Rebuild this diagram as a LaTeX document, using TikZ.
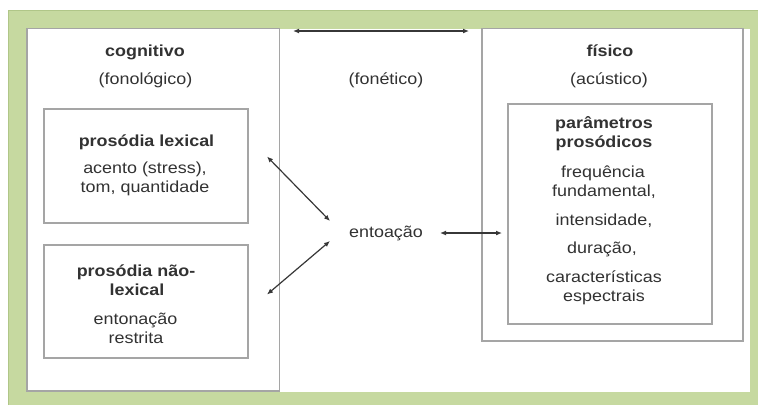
\documentclass[tikz,border=0pt]{standalone}
\usepackage{fontspec}
\setmainfont{Liberation Sans}[FakeStretch=1.12]
\usetikzlibrary{arrows.meta}
\definecolor{framegreen}{RGB}{198,217,160}
\definecolor{framegreendark}{RGB}{176,198,136}
\definecolor{panelgray}{RGB}{165,165,165}
\definecolor{txtgray}{RGB}{50,50,50}
\definecolor{arrowgray}{RGB}{55,55,55}
\begin{document}
\begin{tikzpicture}[x=1pt,y=-1pt,
  panel/.style={draw=panelgray,line width=1.5pt},
  inbox/.style={draw=panelgray,line width=1.3pt},
  lbl/.style={text=txtgray,font=\fontsize{16}{19}\selectfont,inner sep=0pt,anchor=base},
  hdr/.style={lbl,font=\fontsize{16}{19}\selectfont\bfseries},
  link/.style={draw=arrowgray,line width=1.2pt,{Latex[length=6pt,width=5pt]}-{Latex[length=6pt,width=5pt]}}]
\useasboundingbox (0,0) rectangle (758,405);
\fill[white] (0,0) rectangle (758,405);
% green frame
\fill[framegreen] (8,10) rectangle (758,405);
\draw[framegreendark,line width=0.8pt] (8.4,405) -- (8.4,10.4) -- (758,10.4);
\fill[white] (27,28.5) rectangle (750,391.5);
% panels
\draw[panel] (27,28.5) rectangle (279.5,391);
\draw[panel] (482,28.5) rectangle (743,341);
\fill[framegreen] (20,10.8) rectangle (758,28);
% inner boxes
\draw[inbox] (44,109) rectangle (248,223);
\draw[inbox] (44,245) rectangle (248,358);
\draw[inbox] (508,104) rectangle (712,324);
% headers
\node[hdr] (cog) at (145,56) {cognitivo};
\node[lbl] (fonol) at (145.5,84) {(fonológico)};
\node[lbl] (fonet) at (386,84) {(fonético)};
\node[hdr] (fis) at (610,56) {físico};
\node[lbl] (acus) at (609,84) {(acústico)};
% box 1
\node[hdr] (pl) at (146.5,146) {prosódia lexical};
\node[lbl] (pl1) at (145,173.5) {acento (stress),};
\node[lbl] (pl2) at (145,192.5) {tom, quantidade};
% box 2
\node[hdr] (pn1) at (136,276.5) {prosódia não-};
\node[hdr] (pn2) at (137,295.5) {lexical};
\node[lbl] (pn3) at (135.5,324.5) {entonação};
\node[lbl] (pn4) at (136,343) {restrita};
% box 3
\node[hdr] (pp1) at (604,128.5) {parâmetros};
\node[hdr] (pp2) at (604,147.5) {prosódicos};
\node[lbl] (pp3) at (603,177) {frequência};
\node[lbl] (pp4) at (604,196) {fundamental,};
\node[lbl] (pp5) at (604,225) {intensidade,};
\node[lbl] (pp6) at (602,253.5) {duração,};
\node[lbl] (pp7) at (604,282) {características};
\node[lbl] (pp8) at (604,301) {espectrais};
% centre
\node[lbl] (ent) at (386,237.5) {entoação};
% arrow ends
\coordinate (tl) at (293,31);
\coordinate (tr) at (469,31);
\coordinate (a1s) at (330,221);
\coordinate (a1e) at (267,156.5);
\coordinate (a2s) at (330,241);
\coordinate (a2e) at (267,294.5);
\coordinate (a3s) at (440,233);
\coordinate (a3e) at (502,233);
\draw[link] (tl) -- (tr);
\draw[link] (a1s) -- (a1e);
\draw[link] (a2s) -- (a2e);
\draw[link] (a3s) -- (a3e);
\end{tikzpicture}
\end{document}
